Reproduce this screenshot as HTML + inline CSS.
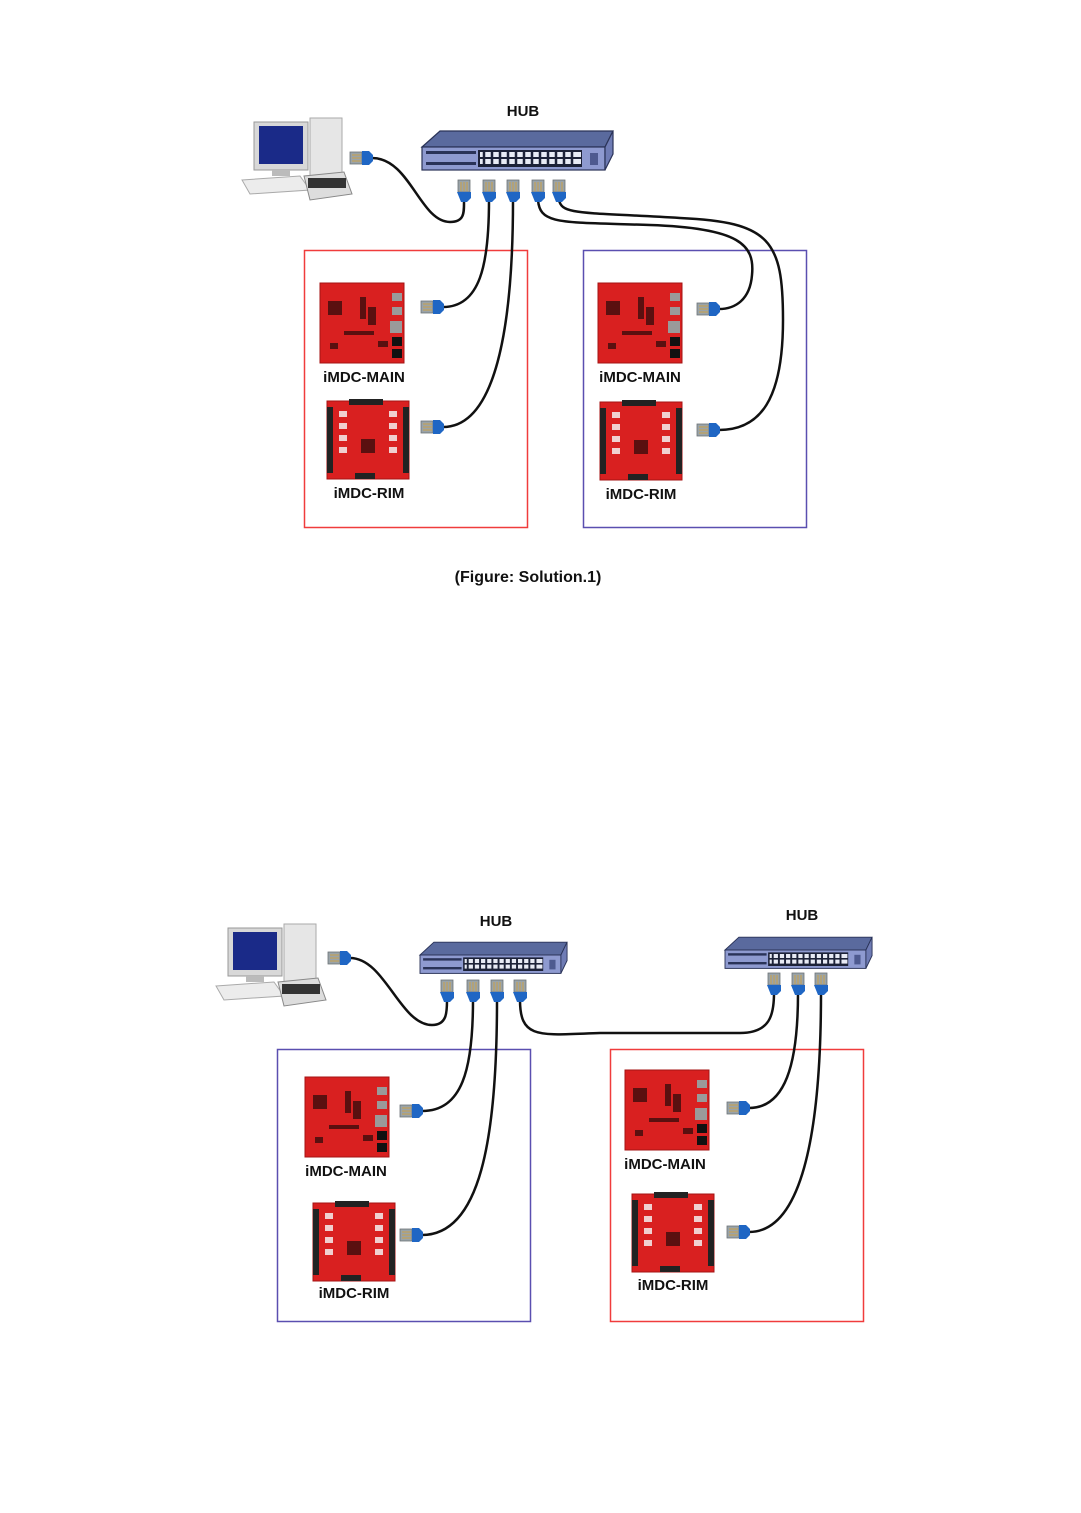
<!DOCTYPE html>
<html><head><meta charset="utf-8"><style>
html,body{margin:0;padding:0;background:#fff;}
svg{display:block;}
text{font-family:"Liberation Sans",Arial,sans-serif;font-weight:bold;fill:#111;}
</style></head><body>
<svg width="1081" height="1513" viewBox="0 0 1081 1513" xmlns="http://www.w3.org/2000/svg">
<defs>
 <g id="ch"><!-- horizontal connector, blue at right -->
  <rect x="0" y="-6" width="12" height="12" fill="#9aa3a8" stroke="#6b7377" stroke-width="0.8"/>
  <line x1="2" y1="-3" x2="11" y2="-3" stroke="#c9a04a" stroke-width="1"/>
  <line x1="2" y1="0" x2="11" y2="0" stroke="#c9a04a" stroke-width="1"/>
  <line x1="2" y1="3" x2="11" y2="3" stroke="#c9a04a" stroke-width="1"/>
  <path d="M12,-7 L19,-7 L23,-3 L23,3 L19,7 L12,7 Z" fill="#1f66c4"/>
 </g>
 <g id="cv"><!-- vertical connector, blue at bottom -->
  <rect x="-6" y="0" width="12" height="12" fill="#9aa3a8" stroke="#6b7377" stroke-width="0.8"/>
  <line x1="-3" y1="2" x2="-3" y2="11" stroke="#c9a04a" stroke-width="1"/>
  <line x1="0" y1="2" x2="0" y2="11" stroke="#c9a04a" stroke-width="1"/>
  <line x1="3" y1="2" x2="3" y2="11" stroke="#c9a04a" stroke-width="1"/>
  <path d="M-7,12 L7,12 L7,18 L3,22 L-3,22 Z" fill="#1f66c4"/>
 </g>
 <g id="hub">
  <polygon points="0,0 18,-16 191,-16 183,0" fill="#5a6a9e" stroke="#2a3358" stroke-width="1.2"/>
  <rect x="0" y="0" width="183" height="23" fill="#8e9ad0" stroke="#2a3358" stroke-width="1.2"/>
  <polygon points="183,0 191,-16 191,7 183,23" fill="#6f7cb5" stroke="#2a3358" stroke-width="1.2"/>
  <rect x="4" y="4" width="50" height="3" fill="#2a3358"/>
  <rect x="4" y="15" width="50" height="3" fill="#2a3358"/>
  <rect x="56" y="3" width="104" height="17" fill="#1d2238"/>
  <g fill="#e8ebf5">
   <rect x="58" y="5" width="101" height="5"/><rect x="58" y="12" width="101" height="5"/>
  </g>
  <g stroke="#1d2238" stroke-width="2.5">
   <path d="M62,4V20M70,4V20M78,4V20M86,4V20M94,4V20M102,4V20M110,4V20M118,4V20M126,4V20M134,4V20M142,4V20M150,4V20"/>
  </g>
  <rect x="168" y="6" width="8" height="12" fill="#4e5a8f"/>
 </g>
 <g id="main">
  <rect x="0" y="0" width="84" height="80" fill="#d92020" stroke="#a51313"/>
  <g fill="#5a1010">
   <rect x="8" y="18" width="14" height="14"/><rect x="40" y="14" width="6" height="22"/><rect x="48" y="24" width="8" height="18"/>
   <rect x="24" y="48" width="30" height="4"/><rect x="10" y="60" width="8" height="6"/><rect x="58" y="58" width="10" height="6"/>
  </g>
  <g fill="#9a9a9a"><rect x="72" y="10" width="10" height="8"/><rect x="72" y="24" width="10" height="8"/><rect x="70" y="38" width="12" height="12"/></g>
  <g fill="#111"><rect x="72" y="54" width="10" height="9"/><rect x="72" y="66" width="10" height="9"/></g>
 </g>
 <g id="rim">
  <rect x="0" y="0" width="82" height="78" fill="#d92020" stroke="#a51313"/>
  <rect x="0" y="6" width="6" height="66" fill="#222"/><rect x="76" y="6" width="6" height="66" fill="#222"/>
  <rect x="22" y="-2" width="34" height="6" fill="#222"/><rect x="28" y="72" width="20" height="6" fill="#222"/>
  <g fill="#f0d0d0"><rect x="12" y="10" width="8" height="6"/><rect x="12" y="22" width="8" height="6"/><rect x="12" y="34" width="8" height="6"/><rect x="12" y="46" width="8" height="6"/>
  <rect x="62" y="10" width="8" height="6"/><rect x="62" y="22" width="8" height="6"/><rect x="62" y="34" width="8" height="6"/><rect x="62" y="46" width="8" height="6"/></g>
  <rect x="34" y="38" width="14" height="14" fill="#5a1010"/>
 </g>
 <g id="pc">
  <rect x="70" y="0" width="32" height="62" fill="#e6e6e6" stroke="#aaa"/>
  <rect x="14" y="4" width="54" height="48" fill="#d8d8d8" stroke="#999"/>
  <rect x="19" y="8" width="44" height="38" fill="#1a2a88"/>
  <rect x="32" y="52" width="18" height="6" fill="#bbb"/>
  <polygon points="2,62 60,58 70,72 10,76" fill="#ececec" stroke="#aaa"/>
  <polygon points="64,58 104,54 112,76 70,82" fill="#ddd" stroke="#888"/>
  <rect x="68" y="60" width="38" height="10" fill="#333"/>
 </g>
</defs>

<!-- ===== TOP FIGURE ===== -->
<text x="523" y="116" font-size="15" text-anchor="middle">HUB</text>
<use href="#pc" x="240" y="118"/>
<use href="#hub" x="422" y="147"/>

<rect x="304.5" y="250.5" width="223" height="277" fill="none" stroke="#f03c3c" stroke-width="1.5"/>
<rect x="583.5" y="250.5" width="223" height="277" fill="none" stroke="#5a4fb0" stroke-width="1.5"/>

<g fill="none" stroke="#111" stroke-width="2.5">
 <path d="M372,158 C410,158 420,222 450,222 C465,222 464,212 464,200"/>
 <path d="M489,200 C489,265 480,307 443,307"/>
 <path d="M513,200 C513,330 495,427 443,427"/>
 <path d="M538,200 C540,225 560,222 650,225 C740,228 755,245 752,275 C750,300 735,309 719,309"/>
 <path d="M559,200 C562,215 580,212 680,218 C770,222 783,240 783,320 C783,400 760,430 719,430"/>
</g>
<use href="#ch" x="350" y="158"/>
<use href="#cv" x="464" y="180"/><use href="#cv" x="489" y="180"/><use href="#cv" x="513" y="180"/><use href="#cv" x="538" y="180"/><use href="#cv" x="559" y="180"/>
<use href="#ch" x="421" y="307"/><use href="#ch" x="421" y="427"/>
<use href="#ch" x="697" y="309"/><use href="#ch" x="697" y="430"/>

<use href="#main" x="320" y="283"/>
<text x="364" y="382" font-size="15" text-anchor="middle">iMDC-MAIN</text>
<use href="#rim" x="327" y="401"/>
<text x="369" y="498" font-size="15" text-anchor="middle">iMDC-RIM</text>
<use href="#main" x="598" y="283"/>
<text x="640" y="382" font-size="15" text-anchor="middle">iMDC-MAIN</text>
<use href="#rim" x="600" y="402"/>
<text x="641" y="499" font-size="15" text-anchor="middle">iMDC-RIM</text>

<text x="528" y="582" font-size="16" text-anchor="middle">(Figure: Solution.1)</text>

<!-- ===== BOTTOM FIGURE ===== -->
<text x="496" y="926" font-size="15" text-anchor="middle">HUB</text>
<text x="802" y="920" font-size="15" text-anchor="middle">HUB</text>
<use href="#pc" x="214" y="924"/>
<g transform="translate(420,955) scale(0.77,0.8)"><use href="#hub"/></g>
<g transform="translate(725,950) scale(0.77,0.8)"><use href="#hub"/></g>

<rect x="277.5" y="1049.5" width="253" height="272" fill="none" stroke="#5a4fb0" stroke-width="1.5"/>
<rect x="610.5" y="1049.5" width="253" height="272" fill="none" stroke="#f03c3c" stroke-width="1.5"/>

<g fill="none" stroke="#111" stroke-width="2.5">
 <path d="M350,958 C385,958 400,1025 432,1025 C447,1025 447,1012 447,1000"/>
 <path d="M473,1000 C473,1070 462,1111 422,1111"/>
 <path d="M497,1000 C497,1140 480,1235 422,1235"/>
 <path d="M520,1000 C520,1040 540,1035 600,1033 L740,1033 C770,1033 774,1015 774,993"/>
 <path d="M798,993 C798,1065 785,1108 749,1108"/>
 <path d="M821,993 C821,1140 800,1232 749,1232"/>
</g>
<use href="#ch" x="328" y="958"/>
<use href="#cv" x="447" y="980"/><use href="#cv" x="473" y="980"/><use href="#cv" x="497" y="980"/><use href="#cv" x="520" y="980"/>
<use href="#cv" x="774" y="973"/><use href="#cv" x="798" y="973"/><use href="#cv" x="821" y="973"/>
<use href="#ch" x="400" y="1111"/><use href="#ch" x="400" y="1235"/>
<use href="#ch" x="727" y="1108"/><use href="#ch" x="727" y="1232"/>

<use href="#main" x="305" y="1077"/>
<text x="346" y="1176" font-size="15" text-anchor="middle">iMDC-MAIN</text>
<use href="#rim" x="313" y="1203"/>
<text x="354" y="1298" font-size="15" text-anchor="middle">iMDC-RIM</text>
<use href="#main" x="625" y="1070"/>
<text x="665" y="1169" font-size="15" text-anchor="middle">iMDC-MAIN</text>
<use href="#rim" x="632" y="1194"/>
<text x="673" y="1290" font-size="15" text-anchor="middle">iMDC-RIM</text>
</svg>
</body></html>
